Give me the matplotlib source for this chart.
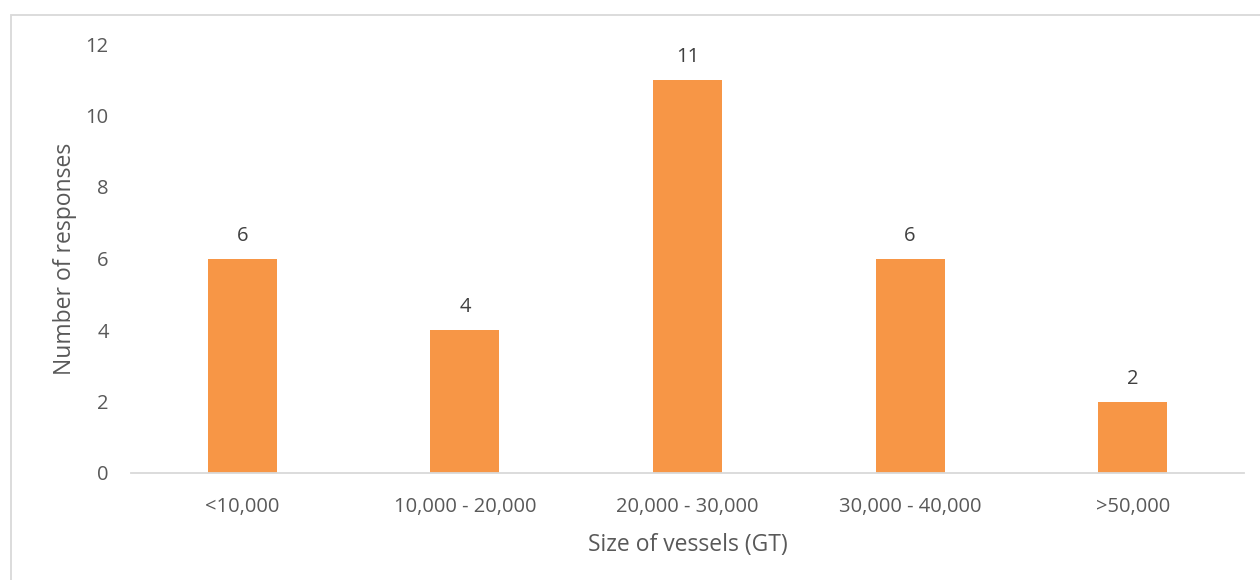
import matplotlib.pyplot as plt
from matplotlib.patches import Rectangle

plt.rcParams['font.family'] = ['Open Sans', 'DejaVu Sans']

sizes = ['<10,000', '10,000 - 20,000', '20,000 - 30,000', '30,000 - 40,000', '>50,000']
responses = [6, 4, 11, 6, 2]

grey = '#595959'
fig = plt.figure(figsize=(12.6, 5.8), dpi=100)
ax = fig.add_axes([131/1260, 1 - 473/580, (1244 - 131)/1260, (473 - 44)/580])

x = range(len(sizes))
bars = ax.bar(x, responses, width=0.31, color='#F79646', zorder=2)
for b, v in zip(bars, responses):
    ax.text(b.get_x() + b.get_width()/2, v + 0.36, str(v), ha='center', va='bottom',
            fontsize=14.5, color='#404040')

ax.set_xlim(-0.5, len(sizes) - 0.5)
ax.set_ylim(0, 12)
ax.set_yticks(range(0, 13, 2))
ax.set_xticks(list(x))
ax.set_xticklabels(sizes)
ax.tick_params(axis='both', length=0, labelsize=14.5, labelcolor=grey)
ax.tick_params(axis='y', pad=16)
ax.tick_params(axis='x', pad=17)
for s in ['top', 'right', 'left']:
    ax.spines[s].set_visible(False)
ax.spines['bottom'].set_color('#D9D9D9')
ax.spines['bottom'].set_linewidth(1.3)

ax.set_ylabel('Number of responses', fontsize=16.5, color=grey, labelpad=6)
ax.set_xlabel('Size of vessels (GT)', fontsize=16.5, color=grey, labelpad=12)

# outer chart frame
fig.patches.append(Rectangle((11/1260, -0.1), 1.2, 1 - 15/580 + 0.1, transform=fig.transFigure,
                             fill=False, edgecolor='#D9D9D9', linewidth=1.3))

fig.savefig('out.png', dpi=100)
